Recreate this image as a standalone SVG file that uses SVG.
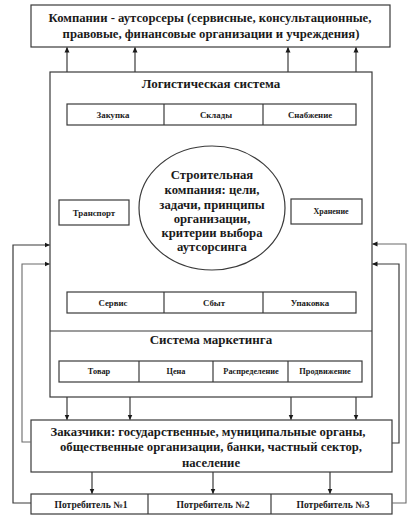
<svg xmlns="http://www.w3.org/2000/svg" width="415" height="529" viewBox="0 0 415 529">
<style>
.bx{fill:#fff;stroke:#3a3a3a;stroke-width:1.2}
.ln{fill:none;stroke:#3a3a3a;stroke-width:1.2}
.lg{fill:none;stroke:#6a6a6a;stroke-width:1.1}
text{font-family:'Liberation Serif','Times New Roman',Tinos,'DejaVu Serif',serif;font-weight:bold;fill:#1a1a1a;text-anchor:middle;dominant-baseline:central}
.big{font-size:12.7px}
.hd{font-size:13px}
.sm{font-size:8.8px}
.mk{font-size:8.3px}
.pt{font-size:9.6px}
</style>
<defs>
<marker id="ah" markerWidth="6" markerHeight="6" refX="5" refY="3" orient="auto" markerUnits="userSpaceOnUse">
<path d="M0,0.5 L5.5,3 L0,5.5 Z" fill="#1a1a1a"/>
</marker>
</defs>
<rect width="415" height="529" fill="#fff"/>
<g id="outsourcers">
<rect class="bx" x="31" y="5" width="359" height="42"/>
<text class="big" x="210" y="18">Компании - аутсорсеры (сервисные, консультационные,</text>
<text class="big" x="211" y="34">правовые, финансовые организации и учреждения)</text>
</g>
<g id="main">
<rect class="bx" x="50" y="72" width="322" height="325"/>
<line class="ln" x1="50" y1="331" x2="372" y2="331"/>
</g>
<g id="logistics">
<text class="hd" x="211" y="83">Логистическая система</text>
</g>
<g id="row1">
<rect class="bx" x="67" y="104" width="289" height="21"/>
<line class="ln" x1="164" y1="104" x2="164" y2="125"/>
<line class="ln" x1="263" y1="104" x2="263" y2="125"/>
<text class="sm" x="113" y="114.5">Закупка</text>
<text class="sm" x="216" y="114.5">Склады</text>
<text class="sm" x="310" y="114.5">Снабжение</text>
</g>
<g id="company">
<ellipse class="bx" cx="212" cy="208" rx="73" ry="62"/>
<text class="big" x="212" y="175">Строительная</text>
<text class="big" x="212" y="190">компания: цели,</text>
<text class="big" x="212" y="205">задачи, принципы</text>
<text class="big" x="212" y="219">организации,</text>
<text class="big" x="212" y="233">критерии выбора</text>
<text class="big" x="212" y="247">аутсорсинга</text>
</g>
<g id="transport">
<rect class="bx" x="59" y="200" width="70" height="25"/>
<text class="sm" x="94" y="212.5">Транспорт</text>
</g>
<g id="storage">
<rect class="bx" x="291" y="199" width="71" height="25"/>
<text class="sm" x="331" y="211.5" style="font-size:8px">Хранение</text>
</g>
<g id="row2">
<rect class="bx" x="67" y="292" width="289" height="21"/>
<line class="ln" x1="164" y1="292" x2="164" y2="313"/>
<line class="ln" x1="263" y1="292" x2="263" y2="313"/>
<text class="sm" x="113" y="302.5">Сервис</text>
<text class="sm" x="214" y="302.5">Сбыт</text>
<text class="sm" x="310" y="302.5">Упаковка</text>
</g>
<g id="marketing">
<text style="font-size:13px" x="211" y="339">Система маркетинга</text>
<rect class="bx" x="59" y="361" width="303" height="21"/>
<line class="ln" x1="139" y1="361" x2="139" y2="382"/>
<line class="ln" x1="213" y1="361" x2="213" y2="382"/>
<line class="ln" x1="288" y1="361" x2="288" y2="382"/>
<text class="mk" x="99" y="371.5">Товар</text>
<text class="mk" x="176" y="371.5">Цена</text>
<text class="mk" x="251" y="371.5">Распределение</text>
<text class="mk" x="325" y="371.5">Продвижение</text>
</g>
<g id="customers">
<rect class="bx" x="31" y="420" width="361" height="52"/>
<text class="big" x="208" y="432">Заказчики: государственные, муниципальные органы,</text>
<text class="big" x="211" y="447">общественные организации, банки, частный сектор,</text>
<text class="big" x="211" y="463">население</text>
</g>
<g id="consumers">
<rect class="bx" x="31" y="494" width="361" height="20"/>
<line class="ln" x1="148" y1="494" x2="148" y2="514"/>
<line class="ln" x1="271" y1="494" x2="271" y2="514"/>
<text class="pt" x="91" y="504">Потребитель №1</text>
<text class="pt" x="213" y="504">Потребитель №2</text>
<text class="pt" x="333" y="504">Потребитель №3</text>
</g>
<g id="connectors">
<line class="ln" x1="67" y1="72" x2="67" y2="47.5" marker-end="url(#ah)"/>
<line class="ln" x1="135" y1="72" x2="135" y2="47.5" marker-end="url(#ah)"/>
<line class="ln" x1="288" y1="72" x2="288" y2="47.5" marker-end="url(#ah)"/>
<line class="ln" x1="356" y1="72" x2="356" y2="47.5" marker-end="url(#ah)"/>
<line class="ln" x1="67" y1="397" x2="67" y2="419.5" marker-end="url(#ah)"/>
<line class="ln" x1="130" y1="397" x2="130" y2="419.5" marker-end="url(#ah)"/>
<line class="ln" x1="291" y1="397" x2="291" y2="419.5" marker-end="url(#ah)"/>
<line class="ln" x1="356" y1="397" x2="356" y2="419.5" marker-end="url(#ah)"/>
<line class="ln" x1="92" y1="472" x2="92" y2="493.5" marker-end="url(#ah)"/>
<line class="ln" x1="213" y1="472" x2="213" y2="493.5" marker-end="url(#ah)"/>
<line class="ln" x1="330" y1="472" x2="330" y2="493.5" marker-end="url(#ah)"/>
<polyline class="ln" points="31,503 13,503 13,245 49.5,245" marker-end="url(#ah)"/>
<polyline class="lg" points="31,442 22,442 22,264 49.5,264" marker-end="url(#ah)"/>
<polyline class="lg" points="392,503 406,503 406,244 372.5,244" marker-end="url(#ah)"/>
<polyline class="ln" points="392,443 399,443 399,264 372.5,264" marker-end="url(#ah)"/>
</g>
</svg>
